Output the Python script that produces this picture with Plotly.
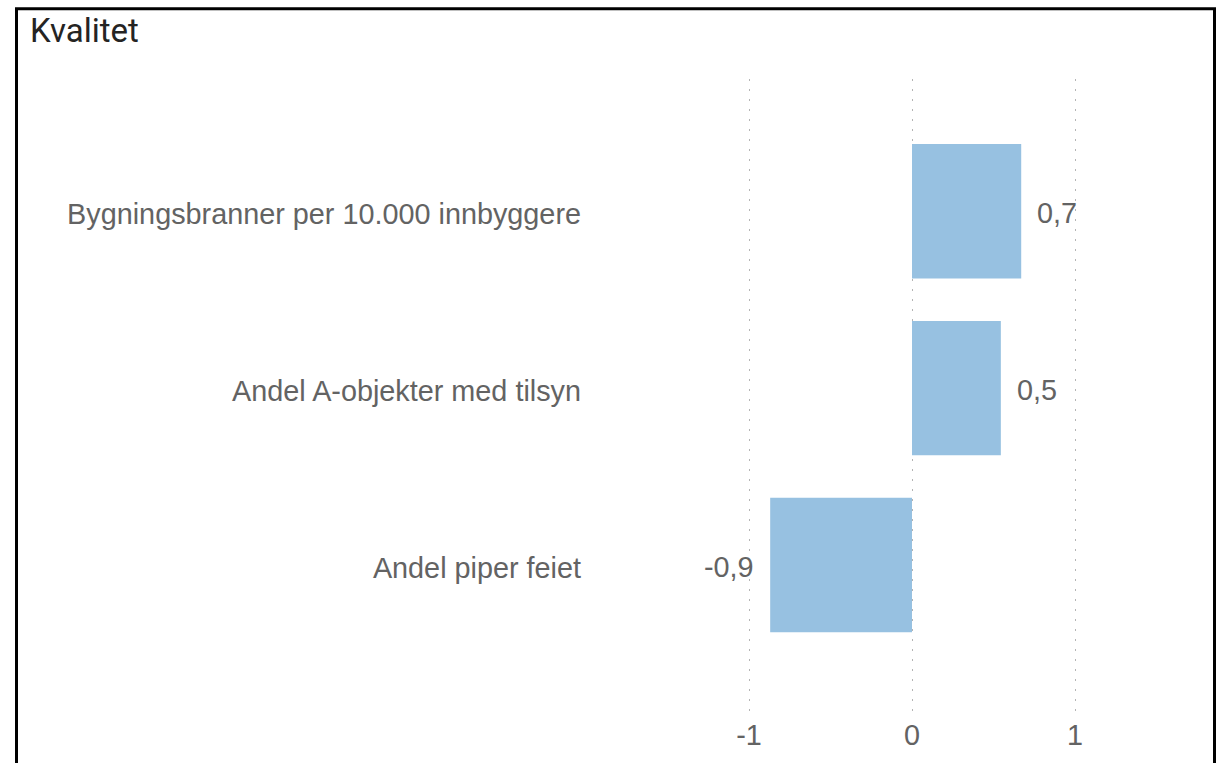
import plotly.graph_objects as go

# Indicator names (top to bottom) and their standardised scores
categories = [
    "Bygningsbranner per 10.000 innbyggere",
    "Andel A-objekter med tilsyn",
    "Andel piper feiet",
]
scores = [0.67, 0.545, -0.87]

tick_values = [-1, 0, 1]
tick_labels = ["-1", "0", "1"]

title_text = "Kvalitet"

BAR_COLOR = "#97C1E1"
TEXT_COLOR = "#636363"
FONT = "Liberation Sans, Arial, sans-serif"
FONT_SIZE = 28.8

W, H = 1226, 763
L, R, T, B = 600, 26, 79, 45
plot_w = W - L - R
plot_h = H - T - B


def px_x(px):
    return (px - L) / plot_w


def px_y(py):
    return (H - B - py) / plot_h


def fmt(v):
    return f"{v:.1f}".replace(".", ",")


fig = go.Figure(
    go.Bar(
        x=scores,
        y=categories,
        orientation="h",
        marker=dict(color=BAR_COLOR, line=dict(width=0)),
        width=0.76,
        hoverinfo="skip",
    )
)

# Value labels beside each bar
for cat, v in zip(categories, scores):
    fig.add_annotation(
        x=v,
        y=cat,
        xref="x",
        yref="y",
        text=fmt(v),
        showarrow=False,
        xanchor="left" if v >= 0 else "right",
        xshift=14 if v >= 0 else -14,
        yshift=-2,
        font=dict(family=FONT, size=FONT_SIZE, color=TEXT_COLOR),
    )

# Title
fig.add_annotation(
    x=px_x(28),
    y=px_y(30),
    xref="paper",
    yref="paper",
    text=title_text,
    showarrow=False,
    xanchor="left",
    yanchor="middle",
    font=dict(family="Roboto, sans-serif", size=33, color="#252423"),
)

# Frame around the visual
fig.add_shape(
    type="rect",
    xref="paper",
    yref="paper",
    x0=px_x(16.5),
    x1=px_x(1214.5),
    y0=px_y(790),
    y1=px_y(8.5),
    line=dict(color="black", width=3),
    fillcolor="rgba(0,0,0,0)",
    layer="above",
)

zero_px = 912
unit_px = 163
fig.update_layout(
    width=W,
    height=H,
    margin=dict(l=L, r=R, t=T, b=B, pad=0),
    paper_bgcolor="white",
    plot_bgcolor="white",
    showlegend=False,
    xaxis=dict(
        range=[(L - zero_px) / unit_px, (W - R - zero_px) / unit_px],
        tickvals=tick_values,
        ticktext=tick_labels,
        showgrid=True,
        gridcolor="#b4b4b4",
        griddash="1.5px,8.5px",
        gridwidth=1.2,
        zeroline=False,
        showline=False,
        ticks="",
        tickfont=dict(family=FONT, size=FONT_SIZE, color=TEXT_COLOR),
        fixedrange=True,
    ),
    yaxis=dict(
        categoryorder="array",
        categoryarray=categories,
        range=[2.848, -0.748],
        showgrid=False,
        zeroline=False,
        showline=False,
        ticks="",
        ticklabelstandoff=18,
        ticklabelshift=-3,
        tickfont=dict(family=FONT, size=FONT_SIZE, color=TEXT_COLOR),
        fixedrange=True,
    ),
)

fig.write_html("out.html")
